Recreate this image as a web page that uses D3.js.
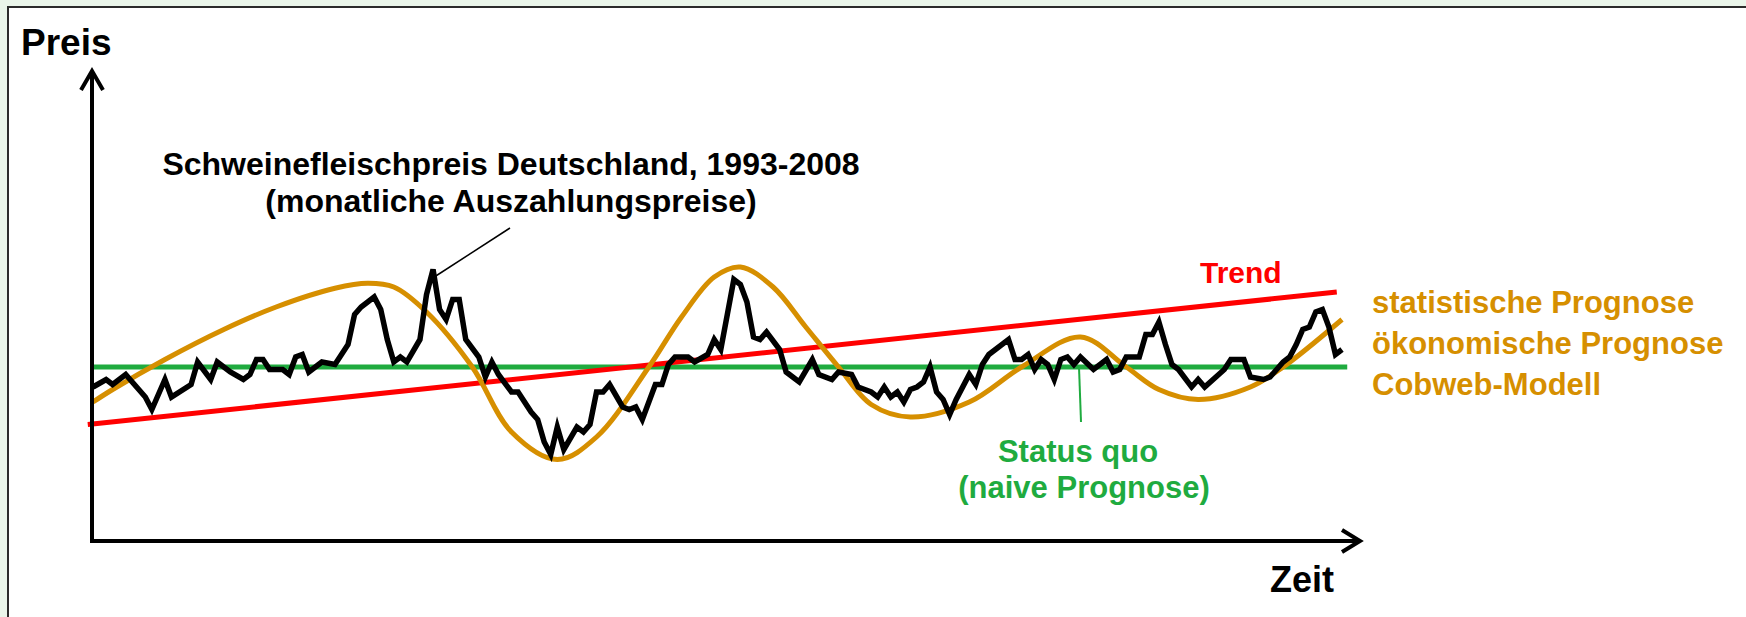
<!DOCTYPE html>
<meta charset="utf-8">
<head>
  <title>Schweinefleischpreis Prognose</title>
</head>

<style>
body {
  margin: 0;
  background: #eaf5ea;
  font-family: Arial, "Liberation Sans", sans-serif;
}
text {
  font-weight: bold;
}
</style>

<body>
  <div id="content">
    <svg width="1746" height="617"></svg>
  </div>

  <script src="https://cdnjs.cloudflare.com/ajax/libs/d3/7.8.5/d3.min.js"></script>

  <script>
// monthly pork price (months since Jan 1993)
var priceMonths = [0, 2, 3, 5, 6, 8, 9, 11, 12, 15, 16, 18, 19, 21, 23, 24, 25, 26, 27, 29,
  30, 31, 32, 33, 35, 37, 38, 39, 40, 41, 43, 44, 45, 46, 47, 48, 50, 51, 52, 53,
  54, 55, 56, 57, 59, 60, 61, 62, 64, 65, 67, 68, 69, 70, 71, 72, 74, 75, 76, 77,
  78, 79, 81, 82, 83, 84, 86, 87, 88, 89, 91, 92, 94, 95, 96, 97, 98, 99, 100, 101,
  102, 103, 105, 106, 108, 110, 111, 113, 114, 116, 117, 119, 120, 121, 122, 123, 124, 125, 126, 127,
  128, 129, 130, 131, 132, 134, 135, 136, 137, 138, 140, 141, 142, 143, 144, 145, 146, 147, 148, 149,
  150, 151, 153, 155, 156, 157, 158, 160, 161, 162, 163, 164, 165, 166, 168, 169, 170, 173, 174, 176,
  177, 179, 180, 182, 183, 184, 185, 186, 187, 188, 189, 190, 191];
var priceValues = [1.37, 1.40, 1.38, 1.42, 1.39, 1.33, 1.28, 1.40, 1.33, 1.38, 1.47, 1.40, 1.47, 1.43, 1.40, 1.42, 1.48, 1.48, 1.44, 1.44,
  1.42, 1.49, 1.50, 1.43, 1.47, 1.46, 1.50, 1.54, 1.66, 1.69, 1.73, 1.68, 1.56, 1.47, 1.49, 1.47, 1.56, 1.74, 1.84, 1.68,
  1.64, 1.72, 1.72, 1.56, 1.49, 1.41, 1.47, 1.42, 1.35, 1.35, 1.27, 1.24, 1.15, 1.10, 1.21, 1.12, 1.21, 1.19, 1.22, 1.35,
  1.35, 1.38, 1.29, 1.28, 1.29, 1.24, 1.38, 1.38, 1.46, 1.49, 1.49, 1.47, 1.50, 1.56, 1.52, 1.66, 1.80, 1.78, 1.71, 1.57,
  1.56, 1.59, 1.52, 1.43, 1.39, 1.48, 1.42, 1.40, 1.43, 1.42, 1.37, 1.35, 1.33, 1.37, 1.33, 1.35, 1.31, 1.36, 1.37, 1.39,
  1.45, 1.35, 1.32, 1.26, 1.32, 1.42, 1.38, 1.46, 1.50, 1.52, 1.56, 1.48, 1.48, 1.50, 1.44, 1.48, 1.46, 1.40, 1.48, 1.49,
  1.46, 1.49, 1.44, 1.48, 1.43, 1.44, 1.49, 1.49, 1.58, 1.58, 1.63, 1.54, 1.46, 1.44, 1.37, 1.40, 1.37, 1.44, 1.48, 1.48,
  1.41, 1.40, 1.41, 1.47, 1.49, 1.54, 1.60, 1.61, 1.67, 1.68, 1.61, 1.50, 1.52];

// cobweb forecast (orange), smooth curve through these nodes
var cobwebMonths = [0, 3, 11, 20, 28, 37, 42, 46, 51, 58, 64, 71, 77, 85, 90, 95, 99, 104, 109, 114, 119,
  125, 134, 142, 151, 158, 163, 169, 177, 182, 191];
var cobwebValues = [1.31, 1.36, 1.48, 1.60, 1.69, 1.765, 1.785, 1.77, 1.67, 1.45, 1.19, 1.08, 1.17, 1.45, 1.65, 1.81, 1.85, 1.77, 1.61, 1.45, 1.30,
  1.25, 1.31, 1.45, 1.57, 1.45, 1.36, 1.32, 1.37, 1.45, 1.64];

// trend (red) and status quo (green)
var trendMonths = [-0.8, 190.2];
var trendValues = [1.22, 1.75];
var statusMonths = [0, 191.8];
var statusValue = 1.45;

var svg = d3.select('#content svg');

// white panel with dark frame
svg.append('rect')
  .attr('x', 8).attr('y', 7)
  .attr('width', 1800).attr('height', 700)
  .attr('fill', '#fff')
  .attr('stroke', '#2b2b2b')
  .attr('stroke-width', 2);

var x = d3.scaleLinear().domain([0, 191]).range([93, 1342]);
var y = d3.scaleLinear().domain([0.75, 2.598]).range([542, 80]);

var axisX = x(0) - 1;
var axisY = y.range()[0] - 1;

var line = d3.line()
  .x(function(d) { return x(d[0]); })
  .y(function(d) { return y(d[1]); });

// status quo
svg.append('path')
  .datum(statusMonths.map(function(m) { return [m, statusValue]; }))
  .attr('d', line)
  .attr('fill', 'none')
  .attr('stroke', '#1fab3f')
  .attr('stroke-width', 5);

// trend
svg.append('path')
  .datum(trendMonths.map(function(m, i) { return [m, trendValues[i]]; }))
  .attr('d', line)
  .attr('fill', 'none')
  .attr('stroke', '#ff0000')
  .attr('stroke-width', 5);

// cobweb curve
svg.append('path')
  .datum(cobwebMonths.map(function(m, i) { return [m, cobwebValues[i]]; }))
  .attr('d', line.curve(d3.curveCatmullRom.alpha(0.5)))
  .attr('fill', 'none')
  .attr('stroke', '#d68f00')
  .attr('stroke-width', 5);
line.curve(d3.curveLinear);

// price series
svg.append('path')
  .datum(priceMonths.map(function(m, i) { return [m, priceValues[i]]; }))
  .attr('d', line)
  .attr('fill', 'none')
  .attr('stroke', '#000')
  .attr('stroke-width', 5.5)
  .attr('stroke-linejoin', 'miter');

// axes with open arrow heads
var axes = svg.append('g')
  .attr('fill', 'none')
  .attr('stroke', '#000')
  .attr('stroke-width', 4);
axes.append('line')
  .attr('x1', axisX).attr('y1', axisY + 2)
  .attr('x2', axisX).attr('y2', 72);
axes.append('path')
  .attr('d', 'M' + (axisX - 11) + ',90L' + axisX + ',71L' + (axisX + 11) + ',90');
axes.append('line')
  .attr('x1', axisX - 2).attr('y1', axisY)
  .attr('x2', 1358).attr('y2', axisY);
axes.append('path')
  .attr('d', 'M1342,' + (axisY - 11) + 'L1360,' + axisY + 'L1342,' + (axisY + 11));

svg.append('text')
  .attr('x', 21).attr('y', 55)
  .attr('font-size', 37)
  .text('Preis');

svg.append('text')
  .attr('x', 1270).attr('y', 592)
  .attr('font-size', 36)
  .text('Zeit');

// title + pointer to the price line
var title = svg.append('g')
  .attr('text-anchor', 'middle')
  .attr('font-size', 32);
title.append('text').attr('x', 511).attr('y', 175)
  .text('Schweinefleischpreis Deutschland, 1993-2008');
title.append('text').attr('x', 511).attr('y', 212)
  .text('(monatliche Auszahlungspreise)');

svg.append('line')
  .attr('x1', 510).attr('y1', 228)
  .attr('x2', x(52) + 2).attr('y2', y(1.84) + 7)
  .attr('stroke', '#000')
  .attr('stroke-width', 1.5);

svg.append('text')
  .attr('x', 1200).attr('y', 283)
  .attr('font-size', 30)
  .attr('fill', '#ff0000')
  .text('Trend');

var orangeLabels = ['statistische Prognose', 'ökonomische Prognose', 'Cobweb-Modell'];
svg.append('g')
  .attr('fill', '#d68f00')
  .attr('font-size', 31)
  .selectAll('text')
  .data(orangeLabels)
  .join('text')
  .attr('x', 1372)
  .attr('y', function(d, i) { return 313 + i * 41; })
  .text(function(d) { return d; });

// status quo label
var sq = svg.append('g')
  .attr('fill', '#1fab3f')
  .attr('text-anchor', 'middle')
  .attr('font-size', 31);
sq.append('text').attr('x', 1078).attr('y', 462).text('Status quo');
sq.append('text').attr('x', 1084).attr('y', 498).text('(naive Prognose)');

svg.append('line')
  .attr('x1', 1079).attr('y1', y(statusValue))
  .attr('x2', 1081).attr('y2', 422)
  .attr('stroke', '#1fab3f')
  .attr('stroke-width', 2);
  </script>
</body>
</html>
